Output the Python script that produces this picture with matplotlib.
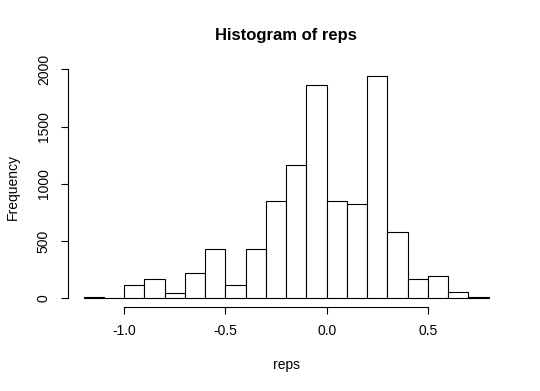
import numpy as np
import matplotlib.pyplot as plt

plt.rcParams['font.family'] = ['Liberation Sans', 'DejaVu Sans']

# histogram bins of reps (width 0.1) and their counts
bin_edges = np.round(np.arange(-1.2, 0.81, 0.1), 2)
counts = [10, 0, 115, 170, 44, 220, 430, 115, 430, 845,
          1160, 1865, 850, 825, 1940, 575, 165, 190, 57, 12]
xticks = [-1.0, -0.5, 0.0, 0.5]
yticks = [0, 500, 1000, 1500, 2000]

fig = plt.figure(figsize=(5.4, 3.91), dpi=100)
ax = fig.add_axes([0.125, 0.215, 0.81, 0.614])

ax.bar(bin_edges[:-1], counts, width=np.diff(bin_edges), align='edge',
       color='white', edgecolor='black', linewidth=0.8)

# R style axes: padded limits, detached axis lines
ax.set_xlim(-1.28, 0.88)
ax.set_ylim(-78, 2023)
for s in ['top', 'right']:
    ax.spines[s].set_visible(False)
ax.spines['left'].set_bounds(0, 2000)
ax.spines['bottom'].set_bounds(-1.0, 0.5)
ax.spines['left'].set_linewidth(0.8)
ax.spines['bottom'].set_linewidth(0.8)

ax.set_xticks(xticks)
ax.set_xticklabels(['-1.0', '-0.5', '0.0', '0.5'])
ax.set_yticks(yticks)
ax.set_yticklabels([str(v) for v in yticks], rotation=90, va='center')
ax.tick_params(length=5, width=0.8, labelsize=10, pad=7)

ax.set_xlabel('reps', fontsize=10, labelpad=15)
ax.set_ylabel('Frequency', fontsize=10, labelpad=12)
ax.set_title('Histogram of reps', fontsize=12, fontweight='bold', pad=19)

fig.savefig('out.png', dpi=100)
